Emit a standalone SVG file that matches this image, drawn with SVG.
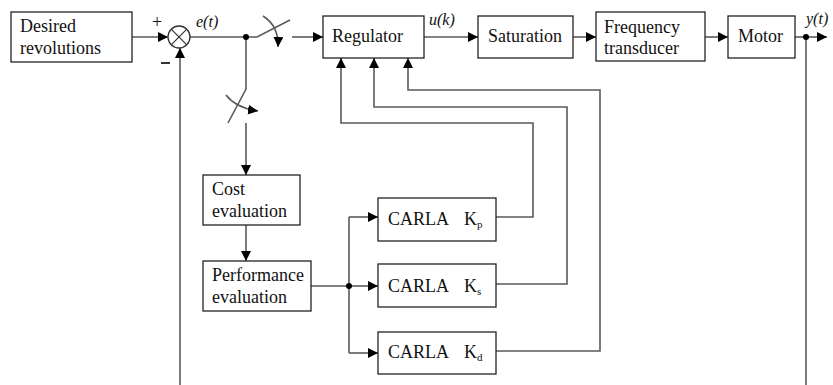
<svg xmlns="http://www.w3.org/2000/svg" width="833" height="385" viewBox="0 0 833 385">
<defs>
<marker id="ah" markerUnits="userSpaceOnUse" markerWidth="11" markerHeight="10" refX="10" refY="5" orient="auto" viewBox="0 0 11 10">
<path d="M0,0 L10,5 L0,10 z" fill="#000"/>
</marker>
</defs>
<style>
.box{fill:#fff;stroke:#222;stroke-width:1.3}
.ln{fill:none;stroke:#5a5a5a;stroke-width:1.6}
.arr{fill:none;stroke:#5a5a5a;stroke-width:1.6;marker-end:url(#ah)}
.t{font-family:'Liberation Serif','DejaVu Serif',serif;font-size:18px;fill:#111}
.it{font-family:'Liberation Serif','DejaVu Serif',serif;font-size:16px;font-style:italic;fill:#111}
.sub{font-size:11px}
</style>
<rect width="833" height="385" fill="#fff"/>
<g id="connectors">
<path class="arr" d="M132,37 H168"/>
<path class="arr" d="M180,385 V48"/>
<path class="ln" d="M190,37 H257 L290,20"/>
<path class="arr" d="M263,16 Q279,26 278,47"/>
<path class="arr" d="M292,37 H323"/>
<path class="ln" d="M246,37 V89 L228,123"/>
<path class="arr" d="M226,95 Q236,108 258,111"/>
<path class="arr" d="M246,123 V175"/>
<path class="arr" d="M424,37 H478"/>
<path class="arr" d="M573,37 H596"/>
<path class="arr" d="M705,37 H728"/>
<path class="arr" d="M795,37 H827"/>
<path class="ln" d="M806,37 V385"/>
<path class="arr" d="M246,225 V261"/>
<path class="ln" d="M311,286 H349 M349,217 V353"/>
<path class="arr" d="M349,217 H378"/>
<path class="arr" d="M349,286 H378"/>
<path class="arr" d="M349,353 H378"/>
<path class="arr" d="M496,217 H533 V123 H341 V58"/>
<path class="arr" d="M496,284 H567 V107 H374 V58"/>
<path class="arr" d="M496,351 H600 V90 H408 V58"/>
<circle cx="246" cy="37" r="3" fill="#000"/>
<circle cx="806" cy="37" r="3" fill="#000"/>
<circle cx="349" cy="286" r="3" fill="#000"/>
</g>
<g id="sum">
<circle cx="179" cy="37" r="11" fill="#fff" stroke="#333" stroke-width="1.3"/>
<path d="M171.2,29.2 L186.8,44.8 M186.8,29.2 L171.2,44.8" stroke="#333" stroke-width="1.2"/>
<text class="t" x="152" y="28" font-size="15">+</text>
<path d="M161,63 H170" stroke="#333" stroke-width="2"/>
</g>
<g id="labels">
<text class="it" x="196" y="27">e(t)</text>
<text class="it" x="429" y="25">u(k)</text>
<text class="it" x="806" y="24">y(t)</text>
</g>
<g id="desired">
<rect class="box" x="11" y="12" width="121" height="50"/>
<text class="t" x="20" y="32">Desired</text>
<text class="t" x="20" y="54">revolutions</text>
</g>
<g id="regulator">
<rect class="box" x="323" y="16" width="101" height="42"/>
<text class="t" x="332" y="42">Regulator</text>
</g>
<g id="saturation">
<rect class="box" x="478" y="16" width="95" height="42"/>
<text class="t" x="488" y="42">Saturation</text>
</g>
<g id="freq">
<rect class="box" x="596" y="12" width="109" height="49"/>
<text class="t" x="604" y="33">Frequency</text>
<text class="t" x="604" y="54">transducer</text>
</g>
<g id="motor">
<rect class="box" x="728" y="16" width="67" height="42"/>
<text class="t" x="738" y="42">Motor</text>
</g>
<g id="cost">
<rect class="box" x="203" y="175" width="97" height="50"/>
<text class="t" x="212" y="195">Cost</text>
<text class="t" x="212" y="217">evaluation</text>
</g>
<g id="perf">
<rect class="box" x="203" y="261" width="108" height="50"/>
<text class="t" x="212" y="281">Performance</text>
<text class="t" x="212" y="303">evaluation</text>
</g>
<g id="kp">
<rect class="box" x="378" y="198" width="118" height="43"/>
<text class="t" x="388" y="225">CARLA</text>
<text class="t" x="464" y="225">K<tspan class="sub" dy="3">p</tspan></text>
</g>
<g id="ks">
<rect class="box" x="378" y="264" width="118" height="43"/>
<text class="t" x="388" y="292">CARLA</text>
<text class="t" x="464" y="292">K<tspan class="sub" dy="3">s</tspan></text>
</g>
<g id="kd">
<rect class="box" x="378" y="332" width="118" height="42"/>
<text class="t" x="388" y="358">CARLA</text>
<text class="t" x="464" y="358">K<tspan class="sub" dy="3">d</tspan></text>
</g>
</svg>
